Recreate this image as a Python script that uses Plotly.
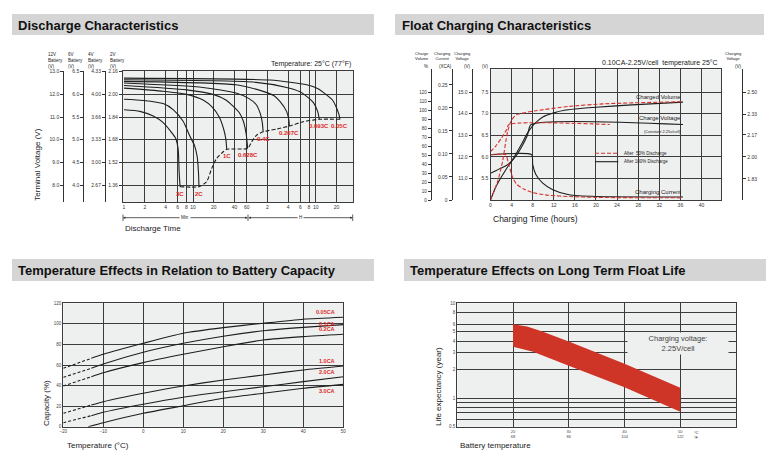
import math
import plotly.graph_objects as go

# ---------------- Discharge characteristics (minutes, 2V cell volts) ----------------
t_3c = [1, 1.7, 2.7, 3.7, 4.9, 5.6, 6.1, 6.3, 6.5]
v_3c = [1.891, 1.880, 1.845, 1.800, 1.730, 1.690, 1.610, 1.450, 1.348]
t_2c = [1, 1.9, 3.7, 5.2, 7.2, 9.1, 10.5, 11.5, 12.0, 12.2]
v_2c = [1.965, 1.957, 1.935, 1.891, 1.810, 1.700, 1.640, 1.560, 1.450, 1.348]
t_1c = [1, 3.7, 8.1, 14, 19, 24, 28, 30, 30.8]
v_1c = [2.044, 2.022, 2.000, 1.960, 1.910, 1.840, 1.750, 1.680, 1.612]
t_0628c = [1, 8.1, 19.6, 30, 38.4, 47, 53.7, 59, 62]
v_0628c = [2.063, 2.032, 2.000, 1.960, 1.915, 1.870, 1.810, 1.720, 1.619]
t_04c = [1, 14, 42, 65, 82.7, 95, 101, 104]
v_04c = [2.080, 2.049, 2.009, 1.970, 1.927, 1.860, 1.800, 1.736]
t_0207c = [1, 42, 104, 150, 182, 227, 245, 249]
v_0207c = [2.092, 2.068, 2.021, 1.990, 1.950, 1.880, 1.820, 1.776]
t_0093c = [1, 74.6, 227, 350, 444, 560, 640, 677]
v_0093c = [2.103, 2.087, 2.049, 2.020, 1.986, 1.940, 1.880, 1.824]
t_005c = [1, 130, 444, 650, 845, 1050, 1180, 1300, 1350]
v_005c = [2.115, 2.101, 2.068, 2.040, 2.000, 1.960, 1.915, 1.860, 1.824]
# cut-off line joining the ends
t_cut = [6.5, 12.2, 15.8, 18.7, 22.1, 27.5, 30.8, 62, 71, 84, 104, 163, 249, 398, 677, 1350]
v_cut = [1.348, 1.348, 1.384, 1.478, 1.549, 1.595, 1.612, 1.619, 1.666, 1.713,
         1.736, 1.755, 1.776, 1.807, 1.824, 1.824]

dis_ticks = [1, 2, 4, 6, 8, 10, 20, 40, 60, 120, 240, 360, 480, 600, 1200]
dis_tick_text = ["1", "2", "4", "6", "8", "10", "20", "40", "60", "2", "4", "6", "8", "10", "20"]
v2_ticks = [2.16, 2.00, 1.84, 1.68, 1.52, 1.36]
v2_labels = ["2.16", "2.00", "1.84", "1.68", "1.52", "1.36"]
v12_labels = ["13.0", "12.0", "11.0", "10.0", "9.0", "8.0"]
v6_labels = ["6.5", "6.0", "5.5", "5.0", "4.5", "4.0"]
v4_labels = ["4.33", "4.00", "3.66", "3.33", "3.00", "2.67"]

# ---------------- Float charging (hours, 6V scale) ----------------
h_vol_100 = [0, 1, 2, 3, 4, 5, 6, 7, 8, 9, 10, 12, 14, 16, 20, 26, 36.5]
v_vol_100 = [5.0, 5.3, 5.52, 5.72, 5.9, 6.1, 6.32, 6.55, 6.72, 6.84, 6.93, 7.02, 7.08, 7.11, 7.15, 7.2, 7.27]
h_volt_100 = [0, 1, 2, 3, 4, 5, 6, 7, 7.7, 36.5]
v_volt_100 = [5.62, 5.68, 5.74, 5.8, 5.9, 6.05, 6.25, 6.5, 6.75, 6.75]
h_cur_100 = [0, 7.8, 8.0, 8.6, 9.9, 11.8, 14.9, 20, 36.5]
v_cur_100 = [6.05, 6.05, 5.82, 5.59, 5.39, 5.24, 5.12, 5.08, 5.07]
h_vol_50 = [0, 1.36, 2.3, 2.9, 3.25, 3.9, 4.8, 6.7, 8.6, 14.9, 21.6, 36.5]
v_vol_50 = [5.0, 5.43, 5.9, 6.36, 6.59, 6.83, 6.97, 7.03, 7.07, 7.17, 7.23, 7.28]
h_volt_50 = [0, 1, 2, 3, 3.5, 22.6]
v_volt_50 = [6.12, 6.25, 6.42, 6.62, 6.75, 6.75]
h_cur_50 = [0, 2.9, 3.3, 3.7, 4.2, 5.0, 6.2, 8, 11, 15, 20, 36.5]
v_cur_50 = [6.05, 6.05, 5.9, 5.72, 5.52, 5.36, 5.26, 5.17, 5.11, 5.08, 5.06, 5.05]

float_hours_ticks = [0, 4, 8, 12, 16, 20, 24, 28, 32, 36, 40]
v6_float_ticks = [5.5, 6.0, 6.5, 7.0, 7.5]
volume_ticks = [0, 10, 20, 30, 40, 50, 60, 70, 80, 90, 100, 110, 120]
current_ticks = [0, 0.05, 0.10, 0.15, 0.20, 0.25]
current_labels = ["0", "0.05", "0.10", "0.15", "0.20", "0.25"]
v12_float_ticks = [11.0, 12.0, 13.0, 14.0, 15.0]
cell_ticks = [1.83, 2.00, 2.17, 2.33, 2.50]

# ---------------- Capacity vs temperature ----------------
cap_temp = [-20, -13, -10, 0, 10, 20, 30, 40, 50]
cap_005 = [56.8, 66.5, 70.4, 81.1, 90.9, 96.3, 100.6, 104.5, 106.4]
cap_01 = [48.0, 56.8, 61.0, 72.4, 81.1, 88.0, 93.3, 96.6, 99.3]
cap_02 = [39.6, 48.6, 52.5, 62.3, 70.4, 77.8, 84.3, 87.6, 89.9]
cap_10 = [13.0, 21.1, 24.3, 32.5, 39.6, 45.4, 50.3, 55.2, 59.0]
cap_20 = [3.9, 10.7, 14.0, 21.8, 28.6, 34.0, 38.9, 43.8, 48.6]
cap_temp_30 = [-13.75, -10, 0, 10, 20, 30, 40, 50]
cap_30 = [0.0, 3.9, 13.0, 20.4, 27.6, 32.5, 37.4, 41.2]

# ---------------- Float life vs temperature ----------------
life_t_upper = [20, 22.5, 25, 30, 40, 50]
life_upper = [6.0, 5.7, 5.1, 3.95, 2.3, 1.29]
life_t_lower = [20, 23.6, 30, 40, 50]
life_lower = [3.48, 3.08, 2.2, 1.3, 0.72]
life_temp_ticks = [20, 30, 40, 50]
life_temp_f = [68, 86, 104, 122]
life_grid = [0.5, 0.6, 0.7, 0.8, 0.9, 1, 2, 3, 4, 5, 6, 8, 10]
life_labels = ["0.5", "", "", "", "", "1", "2", "3", "4", "5", "6", "8", "10"]

# ---------------- styling ----------------
W, H = 778, 460
BLACK = "#1e1e1e"
RED = "#d9302a"
RED_TXT = "#e0281e"
GRID = "#3c3c3c"
BG = "#eeefef"
FONT = "Liberation Sans, Arial, sans-serif"


def px(x):
    return x / W


def py(y):
    return 1 - y / H


fig = go.Figure()


def line(x, y, xa, ya, color=BLACK, dash="solid", spline=True, width=1.1):
    fig.add_trace(go.Scatter(
        x=x, y=y, mode="lines", xaxis=xa, yaxis=ya, hoverinfo="skip", showlegend=False,
        line=dict(color=color, width=width, dash=dash,
                  shape="spline" if spline else "linear", smoothing=0.6)))


def anchor_trace(x, y, xa, ya):
    # invisible points so the extra scale axes get drawn
    fig.add_trace(go.Scatter(x=x, y=y, mode="markers", xaxis=xa, yaxis=ya, hoverinfo="skip",
                             showlegend=False, marker=dict(opacity=0, size=1)))


# discharge
discharge = [("3C", t_3c, v_3c), ("2C", t_2c, v_2c), ("1C", t_1c, v_1c),
             ("0.628C", t_0628c, v_0628c), ("0.4C", t_04c, v_04c),
             ("0.207C", t_0207c, v_0207c), ("0.093C", t_0093c, v_0093c),
             ("0.05C", t_005c, v_005c)]
for name, t, v in discharge:
    line(t, v, "x", "y")
line(t_cut, v_cut, "x", "y", dash="4px,2px")
for ya in ["y5", "y6", "y7"]:
    anchor_trace([dis_ticks[0]] * len(v2_ticks), v2_ticks, "x", ya)

# float charging
line(h_vol_100, v_vol_100, "x2", "y2")
line(h_volt_100, v_volt_100, "x2", "y2")
line(h_cur_100, v_cur_100, "x2", "y2")
line(h_vol_50, v_vol_50, "x2", "y2", color=RED, dash="4px,2px")
line(h_volt_50, v_volt_50, "x2", "y2", color=RED, dash="4px,2px")
line(h_cur_50, v_cur_50, "x2", "y2", color=RED, dash="4px,2px")
anchor_trace([0] * len(volume_ticks), volume_ticks, "x2", "y8")
anchor_trace([0] * len(current_ticks), current_ticks, "x2", "y9")
anchor_trace([0] * len(v12_float_ticks), v12_float_ticks, "x2", "y10")
anchor_trace([0] * len(cell_ticks), cell_ticks, "x2", "y11")

# capacity
capacity = [("0.05CA", cap_temp, cap_005), ("0.1CA", cap_temp, cap_01),
            ("0.2CA", cap_temp, cap_02), ("1.0CA", cap_temp, cap_10),
            ("2.0CA", cap_temp, cap_20), ("3.0CA", cap_temp_30, cap_30)]
for name, t, c in capacity:
    if t[0] == -20:
        k = t.index(-13)
        line(t[:k + 1], c[:k + 1], "x3", "y3", dash="3px,2px")
        line(t[k:], c[k:], "x3", "y3")
    else:
        line(t, c, "x3", "y3")

# float life band
fig.add_trace(go.Scatter(
    x=life_t_upper + life_t_lower[::-1], y=life_upper + life_lower[::-1],
    mode="lines", fill="toself", fillcolor="#cf3526", line=dict(width=0),
    xaxis="x4", yaxis="y4", hoverinfo="skip", showlegend=False))

tick_font = dict(size=5, color="#333333", family=FONT)
small_font = dict(size=4.5, color="#333333", family=FONT)


def main_axis(**kw):
    d = dict(showgrid=True, gridcolor=GRID, gridwidth=1.2, showline=True, linecolor=GRID,
             linewidth=1.2, mirror=True, zeroline=False, ticks="", tickfont=tick_font,
             fixedrange=True)
    d.update(kw)
    return d


def side_axis(**kw):
    d = dict(showgrid=False, showline=True, linecolor="#333333", linewidth=1.1, zeroline=False,
             ticks="outside", ticklen=3, tickcolor="#333333", tickfont=tick_font, anchor="free",
             fixedrange=True)
    d.update(kw)
    return d


dis_range = [1.24, 2.165]
float_range = [5.0, 8.03]

layout = dict(
    width=W, height=H, margin=dict(l=0, r=0, t=0, b=0, pad=0), autosize=False,
    template="none", paper_bgcolor="white", plot_bgcolor=BG,
    font=dict(family=FONT, color="#222222"), showlegend=False,
    xaxis=main_axis(domain=[px(123), px(353)], type="log", range=[-0.0145, 3.319],
                    tickvals=dis_ticks, ticktext=dis_tick_text, anchor="y"),
    yaxis=main_axis(domain=[py(202), py(71)], range=dis_range, tickvals=v2_ticks,
                    ticktext=v2_labels, anchor="x", ticks="outside", ticklen=3, tickcolor="#333"),
    yaxis5=side_axis(overlaying="y", position=px(63.3), range=dis_range, tickvals=v2_ticks,
                     ticktext=v12_labels),
    yaxis6=side_axis(overlaying="y", position=px(83.3), range=dis_range, tickvals=v2_ticks,
                     ticktext=v6_labels),
    yaxis7=side_axis(overlaying="y", position=px(105), range=dis_range, tickvals=v2_ticks,
                     ticktext=v4_labels),
    xaxis2=main_axis(domain=[px(490.5), px(721)], range=[0, 43.7], tickvals=float_hours_ticks,
                     anchor="y2"),
    yaxis2=main_axis(domain=[py(200), py(69.3)], range=float_range, tickvals=v6_float_ticks,
                     tickformat=".1f", anchor="x2"),
    yaxis8=side_axis(overlaying="y2", position=px(430.7), range=[0, (float_range[1] - 5) * 48],
                     tickvals=volume_ticks, tickfont=small_font),
    yaxis9=side_axis(overlaying="y2", position=px(451.7), range=[0, (float_range[1] - 5) * 0.0936],
                     tickvals=current_ticks, ticktext=current_labels),
    yaxis10=side_axis(overlaying="y2", position=px(471.7), range=[10, float_range[1] * 2],
                      tickvals=v12_float_ticks, tickformat=".1f"),
    yaxis11=side_axis(overlaying="y2", position=px(742.3), side="right",
                      range=[float_range[0] / 3, float_range[1] / 3], tickvals=cell_ticks,
                      tickformat=".2f"),
    xaxis3=main_axis(domain=[px(63.3), px(343.3)], range=[-20, 50],
                     tickvals=[-20, -10, 0, 10, 20, 30, 40, 50], anchor="y3",
                     tickfont=dict(size=4.5, color="#444", family=FONT)),
    yaxis3=main_axis(domain=[py(426.7), py(303.3)], range=[0, 120],
                     tickvals=[0, 20, 40, 60, 80, 100, 120], anchor="x3",
                     tickfont=dict(size=4.5, color="#444", family=FONT)),
    xaxis4=main_axis(domain=[px(457.3), px(736)], range=[10, 60], tickvals=life_temp_ticks,
                     ticktext=[f"{c}<br>{f}" for c, f in zip(life_temp_ticks, life_temp_f)],
                     anchor="y4", tickfont=dict(size=4, color="#444", family=FONT)),
    yaxis4=main_axis(domain=[py(426.7), py(303.3)], type="log",
                     range=[math.log10(0.5), 1], tickvals=life_grid, ticktext=life_labels,
                     anchor="x4", tickfont=dict(size=4.5, color="#444", family=FONT)),
)

shapes = []
ann = []

# section headers
headers = [("Discharge Characteristics", 12, 374, 14, 35, 16),
           ("Float Charging Characteristics", 395, 764, 14, 35, 400),
           ("Temperature Effects in Relation to Battery Capacity", 12, 374, 259, 281, 16),
           ("Temperature Effects on Long Term Float Life", 404, 766, 259, 281, 408)]
for text, x0, x1, y0, y1, tx in headers:
    shapes.append(dict(type="rect", xref="paper", yref="paper", x0=px(x0), x1=px(x1),
                       y0=py(y1), y1=py(y0), fillcolor="#d5d5d5", line=dict(width=0), layer="below"))
    ann.append(dict(xref="paper", yref="paper", x=px(tx), y=py((y0 + y1) / 2 + 0.5), text=f"<b>{text}</b>",
                    showarrow=False, xanchor="left", yanchor="middle",
                    font=dict(size=13, color="#111", family=FONT)))


def label(x, y, text, size=8, anchor="left", yanchor="middle", angle=0, color="#222", **kw):
    ann.append(dict(xref="paper", yref="paper", x=px(x), y=py(y), text=text, showarrow=False,
                    xanchor=anchor, yanchor=yanchor, textangle=angle,
                    font=dict(size=size, color=color, family=FONT), **kw))


# discharge texts
label(36.7, 165, "Terminal Voltage (V)", size=8, anchor="center", angle=-90)
label(123, 228.5, "Discharge Time", size=8)
label(353, 64.3, "Temperature: 25°C (77°F)", size=7, anchor="right")
for x, head in [(46, "12V"), (66, "6V"), (86, "4V"), (108, "2V")]:
    label(x, 60, f"{head}<br>Battery<br>(V)", size=4.5, align="left")
for name, t, v in discharge:
    ann.append(dict(xref="x", yref="y", x=math.log10(t[-1]), y=v[-1], text=f"<b>{name}</b>",
                    showarrow=False, xanchor="center", yanchor="top", yshift=-2,
                    font=dict(size=6, color=RED_TXT, family=FONT)))
# Min / H arrows
arrow_y = 217.7
for head_x, tail_dx in [(123, 62.4), (247.7, -62.4), (248.5, 52), (352.7, -52)]:
    ann.append(dict(xref="paper", yref="paper", x=px(head_x), y=py(arrow_y), text="", showarrow=True,
                    ax=tail_dx, ay=0, arrowhead=2, arrowsize=0.6, arrowwidth=0.8, arrowcolor="#333",
                    standoff=0))
for x in [123, 248, 352.7]:
    shapes.append(dict(type="line", xref="paper", yref="paper", x0=px(x), x1=px(x),
                       y0=py(221), y1=py(214.5), line=dict(color="#333", width=0.8)))
label(185.4, arrow_y, "Min", size=4.5, anchor="center", bgcolor="white")
label(300.3, arrow_y, "H", size=4.5, anchor="center", bgcolor="white")

# float texts
label(490.7, 218.5, "Charging Time (hours)", size=8.5)
label(720, 63.3, "0.10CA-2.25V/cell  temperature 25°C", size=7, anchor="right")
label(422, 55.5, "Charge<br>Volume", size=4, anchor="center")
label(426.5, 66.7, "%", size=4.5, anchor="center")
label(442, 55.5, "Charging<br>Current", size=4, anchor="center")
label(445, 66.7, "(XCA)", size=4.5, anchor="center")
label(462, 55.5, "Charging<br>Voltage", size=4, anchor="center")
label(468, 66.7, "(V)", size=4.5, anchor="center")
label(486, 66.7, "(V)", size=4.5, anchor="center")
label(733, 55.5, "Charging<br>Voltage", size=4, anchor="center")
label(738, 66.7, "(V)", size=4.5, anchor="center")
ann.append(dict(xref="x2", yref="y2", x=h_vol_100[-1], y=v_vol_100[-1], text="Charged Volume",
                showarrow=False, xanchor="right", yanchor="bottom", yshift=0,
                font=dict(size=6, color="#222", family=FONT)))
ann.append(dict(xref="x2", yref="y2", x=h_volt_100[-1], y=v_volt_100[-1], text="Charge Voltage",
                showarrow=False, xanchor="right", yanchor="bottom", yshift=2,
                font=dict(size=6, color="#222", family=FONT)))
ann.append(dict(xref="x2", yref="y2", x=h_volt_100[-1], y=v_volt_100[-1], text="(Constant 2.25v/cell)",
                showarrow=False, xanchor="right", yanchor="top", yshift=-2,
                font=dict(size=4, color="#222", family=FONT)))
ann.append(dict(xref="x2", yref="y2", x=h_cur_100[-1], y=v_cur_100[-1], text="Charging Current",
                showarrow=False, xanchor="right", yanchor="bottom", yshift=0,
                font=dict(size=6, color="#222", family=FONT)))
# legend samples
shapes.append(dict(type="line", xref="paper", yref="paper", x0=px(595), x1=px(618.3),
                   y0=py(153.3), y1=py(153.3), line=dict(color=RED, width=1.1, dash="4px,2px")))
shapes.append(dict(type="line", xref="paper", yref="paper", x0=px(595), x1=px(618.3),
                   y0=py(161.7), y1=py(161.7), line=dict(color=BLACK, width=1.1)))
label(621.7, 153.3, "After  50% Discharge", size=4.5)
label(621.7, 161.7, "After 100% Discharge", size=4.5)

# capacity texts
label(46, 403, "Capacity (%)", size=8, anchor="center", angle=-90)
label(65, 445, "Temperature (°C)", size=8)
cap_label_pos = {"0.05CA": ("bottom", 0), "0.1CA": ("middle", 1), "0.2CA": ("bottom", 0),
                 "1.0CA": ("bottom", 0), "2.0CA": ("bottom", 0), "3.0CA": ("top", -2)}
for name, t, c in capacity:
    ya, ys = cap_label_pos[name]
    ann.append(dict(xref="x3", yref="y3", x=t[-1], y=c[-1], text=f"<b>{name}</b>", showarrow=False,
                    xanchor="right", xshift=-6, yanchor=ya, yshift=ys,
                    font=dict(size=5.5, color=RED_TXT, family=FONT)))

# life texts
label(438, 387, "Life expectancy (year)", size=8, anchor="center", angle=-90)
label(458, 445.7, "Battery temperature", size=8)
label(692, 434.5, "°C<br>°F", size=4, align="left")
label(677.5, 343.5, "Charging voltage:<br>2.25V/cell", size=7.5, anchor="center", color="#444",
      bgcolor=BG, width=98, height=19)

layout["shapes"] = shapes
layout["annotations"] = ann
fig.update_layout(**layout)
fig.write_html("out.html", config={"displayModeBar": False},
               post_script="document.body.style.margin='0';")
